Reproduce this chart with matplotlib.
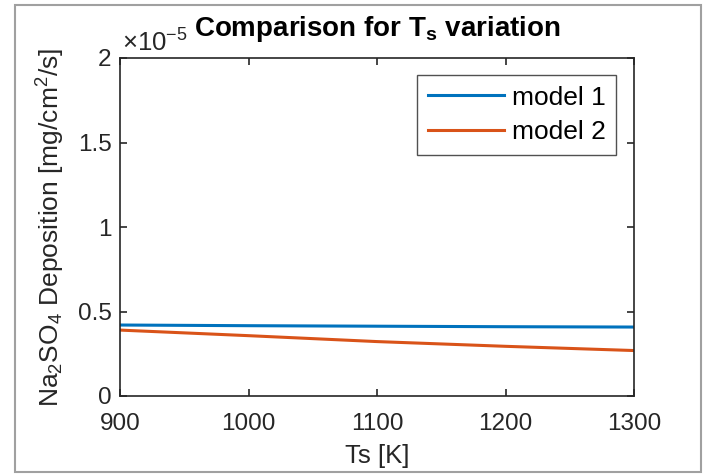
import matplotlib
matplotlib.use('Agg')
import matplotlib.pyplot as plt
from matplotlib.patches import Rectangle
import numpy as np

# values (units of 1e-5 mg/cm^2/s)
ts = [900, 1000, 1100, 1200, 1300]
model1 = [0.420, 0.416, 0.413, 0.410, 0.408]
model2 = [0.390, 0.357, 0.322, 0.294, 0.269]
xticks = [900, 1000, 1100, 1200, 1300]
yticks = [0, 0.5, 1, 1.5, 2]
ytick_labels = ['0', '0.5', '1', '1.5', '2']

plt.rcParams['font.family'] = ['Liberation Sans', 'DejaVu Sans']
plt.rcParams['mathtext.fontset'] = 'custom'
plt.rcParams['mathtext.rm'] = 'Liberation Sans'
plt.rcParams['mathtext.it'] = 'Liberation Sans'
plt.rcParams['mathtext.bf'] = 'Liberation Sans:bold'

fig = plt.figure(figsize=(7.09, 4.74), dpi=100)
ax = fig.add_axes([120/709, 78/474, 514/709, 338/474])

# gray outer frame like the screenshot
fig.patches.append(Rectangle((15/709, 2/474), 686/709, 467/474, transform=fig.transFigure,
                             fill=False, edgecolor='#a0a0a0', lw=1.5))

ax.plot(ts, np.array(model1), color='#0072BD', lw=2.2, label='model 1')
ax.plot(ts, np.array(model2), color='#D95319', lw=2.2, label='model 2')

ax.set_xlim(900, 1300)
ax.set_ylim(0, 2)
ax.set_xticks(xticks)
ax.set_yticks(yticks)
ax.set_yticklabels(ytick_labels)
ax.tick_params(direction='in', top=True, right=True, length=5, width=1.2,
               labelsize=17.5, colors='#262626', pad=6)
ax.tick_params(axis='x', pad=12)
for s in ax.spines.values():
    s.set_linewidth(1.2)
    s.set_color('#262626')

ax.set_xlabel('Ts [K]', fontsize=18.5, color='#262626', labelpad=7)
ax.set_ylabel(r'Na$_2$SO$_4$ Deposition [mg/cm$^2$/s]', fontsize=19, color='#262626', labelpad=8)
ax.set_title(r'Comparison for T$_\mathbf{s}$ variation', fontsize=20, fontweight='bold',
             color='black', pad=16)
ax.text(2/514, 1 + 6/338, r'$\times10^{-5}$', transform=ax.transAxes, fontsize=18.5,
        color='#262626', ha='left', va='baseline')

leg = ax.legend(loc='upper left', bbox_to_anchor=(297/514, 1 - 17/338), fontsize=19,
                frameon=True, fancybox=False, handlelength=2.9, borderpad=0.4,
                labelspacing=0.4, handletextpad=0.3, borderaxespad=0)
leg.get_frame().set_edgecolor('#262626')
leg.get_frame().set_linewidth(1.0)

fig.savefig('out.png', dpi=100)
